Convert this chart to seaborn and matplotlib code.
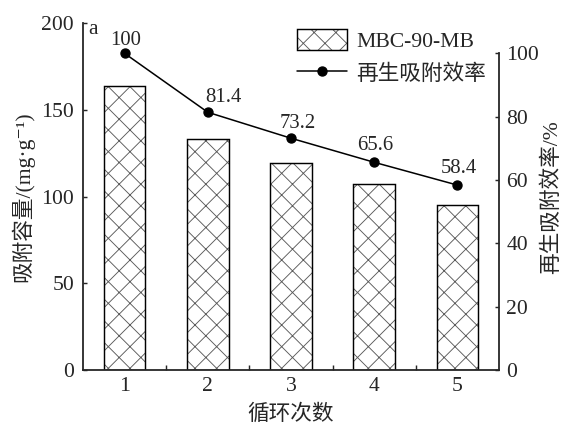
import matplotlib
matplotlib.use("Agg")
import matplotlib.pyplot as plt
import matplotlib.patches as mpatches
import seaborn as sns

# data
cycles = ["1", "2", "3", "4", "5"]
capacity = [163.7, 133.1, 119.3, 107.3, 95.2]      # 吸附容量 (mg/g)
efficiency = [100, 81.4, 73.2, 65.6, 58.4]          # 再生吸附效率 (%)
eff_labels = ["100", "81.4", "73.2", "65.6", "58.4"]
# label nudges in pixels (dx, dy)
label_dx = [1, 16, 7, 1, 1]
label_dy = [13, 15, 15, 17, 17]

sns.set_style("ticks")
plt.rcParams["font.family"] = ["Liberation Serif", "Noto Sans CJK SC", "DejaVu Serif"]
plt.rcParams["font.size"] = 12
plt.rcParams["hatch.linewidth"] = 0.5
plt.rcParams["axes.linewidth"] = 1.0

FS = 12
DPI = 130
fig = plt.figure(figsize=(563 / DPI, 423 / DPI), dpi=DPI)
ax = fig.add_axes([83 / 563, 1 - 370 / 423, 416 / 563, 346.7 / 423])
ax2 = ax.twinx()

# bars: grey hatch first, black outline on top
x = list(range(len(cycles)))
sns.barplot(x=cycles, y=capacity, ax=ax, color="white", saturation=1,
            edgecolor="#5a5a5a", hatch="xx", linewidth=0, width=0.5)
ax.bar(x, capacity, width=0.5, fill=False, edgecolor="black", linewidth=0.8)

# line on right axis
sns.lineplot(x=x, y=efficiency, ax=ax2, color="black", marker="o",
             markersize=5, linewidth=0.85, markeredgecolor="black")
for i, (v, lab) in enumerate(zip(efficiency, eff_labels)):
    ax2.annotate(lab, xy=(i, v), xytext=(label_dx[i], label_dy[i]),
                 textcoords="offset pixels", ha="center", va="center",
                 fontsize=11.5)

ax.set_xlim(-0.5, 4.5)
ax.set_ylim(0, 200)
ax2.set_ylim(0, 109.5)
ax.set_yticks([0, 50, 100, 150, 200])
ax2.set_yticks([0, 20, 40, 60, 80, 100])

ax.set_xticks(x)
ax.set_xticks([0.5, 1.5, 2.5, 3.5], minor=True)
ax.tick_params(axis="x", which="major", length=0, pad=4, labelsize=FS)
ax.tick_params(axis="x", which="minor", direction="in", length=2.8, width=0.8)
ax.tick_params(axis="y", direction="in", length=2.4, width=0.8, pad=5, labelsize=FS)
ax2.tick_params(axis="y", direction="in", length=2.4, width=0.8, pad=4, labelsize=FS)

for a in (ax, ax2):
    for s in a.spines.values():
        s.set_linewidth(1.0)
ax.spines["top"].set_visible(False)
ax.spines["right"].set_visible(False)
ax2.spines["top"].set_visible(False)
ax2.spines["left"].set_visible(False)
ax2.spines["bottom"].set_visible(False)
ax2.spines["right"].set_bounds(0, 100)

ax.set_xlabel("循环次数", fontsize=FS)
ax.set_ylabel("吸附容量/(mg·g⁻¹)", fontsize=FS)
ax2.set_ylabel("再生吸附效率/%", fontsize=FS)
ax.xaxis.set_label_coords(0.5, -0.098)
ax.yaxis.set_label_coords(-0.118, 0.5)
ax2.yaxis.set_label_coords(1.103, 0.5)

ax.text(0.012, 1.01, "a", transform=ax.transAxes, ha="left", va="top", fontsize=FS)

# legend
hatch_patch = mpatches.Patch(facecolor="white", edgecolor="#5a5a5a", hatch="xx", linewidth=0)
edge_patch = mpatches.Patch(fill=False, edgecolor="black", linewidth=0.8)
line_handle = ax2.lines[0]
ax2.legend([(hatch_patch, edge_patch), line_handle], ["MBC-90-MB", "再生吸附效率"],
           loc="upper left", bbox_to_anchor=(0.514, 0.984), frameon=False,
           handlelength=2.3, handleheight=1.1, handletextpad=0.45,
           labelspacing=0.5, borderpad=0, borderaxespad=0, numpoints=1,
           fontsize=FS)

fig.savefig("out.png", dpi=DPI)
